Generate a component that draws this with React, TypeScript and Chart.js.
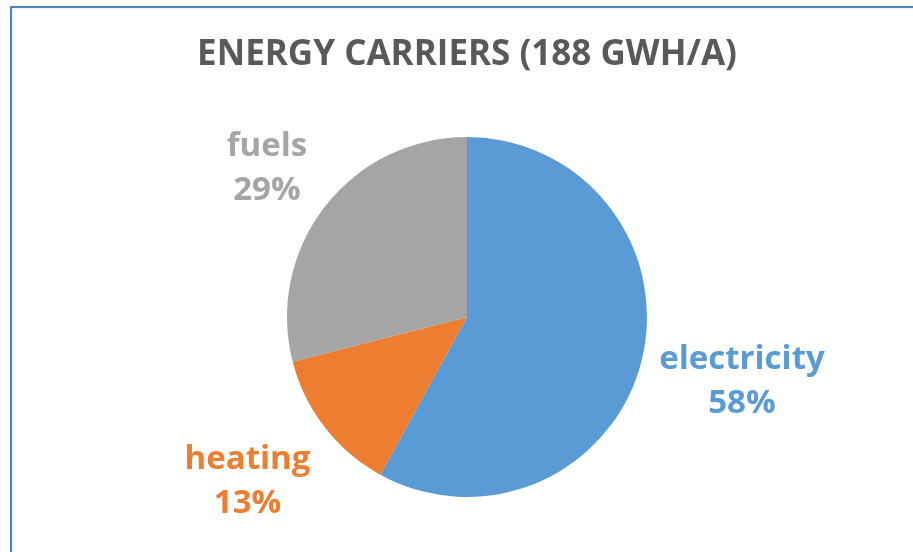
import React, { useEffect, useRef } from "react";
import { Chart, registerables } from "chart.js";

Chart.register(...registerables);

const categories = ["electricity", "heating", "fuels"];
const shares = [58, 13, 29];
const colors = ["#5B9BD5", "#ED7D31", "#A5A5A5"];
const titleText = "ENERGY CARRIERS (188 GWH/A)";
const labelDistance = [1.582, 1.556, 1.352];
const labelAngleShift = [0.66, -0.6, -3.1];

const FONT = "'Open Sans', 'Noto Sans', sans-serif";

const labelPlugin = {
  id: "sliceLabels",
  afterDatasetsDraw(chart: any) {
    const ctx = chart.ctx;
    const meta = chart.getDatasetMeta(0);
    ctx.save();
    ctx.font = `bold 33px ${FONT}`;
    ctx.textAlign = "center";
    ctx.textBaseline = "alphabetic";
    meta.data.forEach((arc: any, i: number) => {
      const p = arc.getProps(["x", "y", "startAngle", "endAngle", "outerRadius"], true);
      const mid = (p.startAngle + p.endAngle) / 2 + (labelAngleShift[i] * Math.PI) / 180;
      const d = p.outerRadius * labelDistance[i];
      const x = p.x + Math.cos(mid) * d;
      const y = p.y + Math.sin(mid) * d;
      ctx.fillStyle = colors[i];
      ctx.fillText(categories[i], x, y - 22);
      ctx.fillText(shares[i] + "%", x, y + 22);
    });
    ctx.restore();
  },
};

export default function App() {
  const ref = useRef<HTMLCanvasElement>(null);
  useEffect(() => {
    document.body.style.margin = "0";
    const chart = new Chart(ref.current!, {
      type: "pie",
      data: {
        labels: categories,
        datasets: [
          {
            data: shares,
            backgroundColor: colors,
            borderWidth: 0,
          },
        ],
      },
      options: {
        animation: false,
        responsive: false,
        layout: { padding: { top: 0, bottom: 55, left: 121, right: 100 } },
        plugins: {
          legend: { display: false },
          tooltip: { enabled: false },
          title: {
            display: true,
            text: titleText,
            color: "#595959",
            font: { family: FONT, size: 35, weight: "bold", lineHeight: 1.2 },
            padding: { top: 34.5, bottom: 60.5 },
          },
        },
      },
      plugins: [labelPlugin],
    });
    return () => chart.destroy();
  }, []);
  return (
    <div style={{ position: "relative", width: 913, height: 552, background: "#fff", overflow: "hidden" }}>
      <canvas ref={ref} width={913} height={552} style={{ position: "absolute", left: 0, top: 0 }} />
      <div
        style={{
          position: "absolute",
          left: 10,
          top: 6,
          width: 920,
          height: 560,
          borderTop: "2px solid #4F81BD",
          borderLeft: "2px solid #4F81BD",
          boxShadow: "inset 1px 1px 2px rgba(0,0,0,0.08)",
        }}
      />
    </div>
  );
}
